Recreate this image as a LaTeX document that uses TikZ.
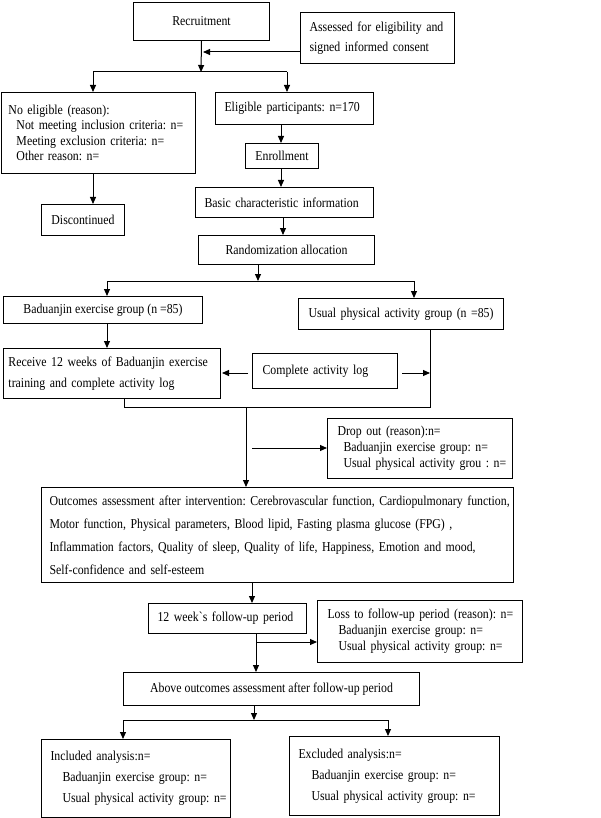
\documentclass[tikz,border=0pt]{standalone}
\usepackage{fontspec}
\setmainfont{Liberation Serif}[FakeStretch=0.87]
\newfontfamily\rawserif{Liberation Serif}[Ligatures=TeXOff,FakeStretch=0.87]
\usetikzlibrary{arrows.meta}
\frenchspacing
\begin{document}
\frenchspacing
\begin{tikzpicture}[x=1pt,y=-1pt,
  box/.style={draw, line width=1pt, inner sep=0pt, anchor=north west, font=\fontsize{13.6}{16}\selectfont},
  cbox/.style={box, align=center},
  lbox/.style={box, align=left},
  arr/.style={line width=1pt, -{Triangle[length=7pt,width=6pt]}},
  ln/.style={line width=1pt}]
\useasboundingbox (0,0) rectangle (600,818);

\node[cbox, minimum width=136pt, minimum height=38pt] (rec) at (133,2) {Recruitment};
\node[lbox, minimum height=51pt, text width=136pt, inner xsep=9pt, font=\fontsize{13.6}{20}\selectfont] (ass) at (300,12)
  {\makebox[136pt][s]{Assessed for eligibility and}\\signed informed consent};
\node[lbox, minimum height=81pt, text width=180pt, inner xsep=7pt, font=\fontsize{13.6}{15.5}\selectfont] (noel) at (1,92)
  {No eligible (reason):\\\hspace*{8pt}\mbox{Not meeting inclusion criteria: n=}\\\hspace*{8pt}\mbox{Meeting exclusion criteria: n=}\\\hspace*{8pt}Other reason: n=};
\node[lbox, minimum height=32pt, text width=140pt, inner xsep=9pt] (elig) at (215,92) {\mbox{Eligible participants: n=170}};
\node[cbox, minimum width=73pt, minimum height=25pt] (enr) at (245,143) {Enrollment};
\node[lbox, minimum height=30pt, text width=160pt, inner xsep=9pt] (basic) at (195,187) {\mbox{Basic characteristic information}};
\node[cbox, minimum width=176pt, minimum height=29pt] (rand) at (198,235) {Randomization allocation};
\node[cbox, minimum width=83pt, minimum height=31pt] (disc) at (41,204) {Discontinued};

\node[cbox, minimum width=199pt, minimum height=27pt] (bad) at (3,296) {Baduanjin exercise group (n =85)};
\node[lbox, minimum height=31pt, text width=185pt, inner xsep=10pt] (usual) at (298,298) {\mbox{Usual physical activity group (n =85)}};
\node[lbox, minimum height=50pt, text width=207pt, inner xsep=5pt, font=\fontsize{13.6}{21}\selectfont] (recv) at (3,348)
  {\makebox[203pt][s]{Receive 12 weeks of Baduanjin exercise}\\training and complete activity log};
\node[lbox, minimum height=35pt, text width=125pt, inner xsep=10pt] (cal) at (252,353) {\mbox{Complete activity log}};

\node[lbox, minimum height=60pt, text width=165pt, inner xsep=10pt, font=\fontsize{13.6}{16}\selectfont] (drop) at (327,418)
  {Drop out (reason):n=\\\hspace*{6pt}\mbox{Baduanjin exercise group: n=}\\\hspace*{6pt}\mbox{Usual physical activity grou : n=}};
\node[lbox, minimum height=95pt, text width=456pt, inner xsep=8pt, font=\fontsize{13.6}{23}\selectfont] (out) at (41,487)
  {\makebox[455pt][s]{Outcomes assessment after intervention: Cerebrovascular function, Cardiopulmonary function,}\\
   \makebox[455pt][s]{Motor function, Physical parameters, Blood lipid, Fasting plasma glucose (FPG) ,}\\
   \makebox[455pt][s]{Inflammation factors, Quality of sleep, Quality of life, Happiness, Emotion and mood,}\\
   Self-confidence and self-esteem};

\node[lbox, minimum height=30pt, text width=140pt, inner xsep=9pt] (wk) at (148,603) {\mbox{12 week{\rawserif\symbol{96}}s follow-up period}};
\node[lbox, minimum height=62pt, text width=185pt, inner xsep=10pt, font=\fontsize{13.6}{16}\selectfont] (loss) at (317,600)
  {\mbox{Loss to follow-up period (reason): n=}\\\hspace*{11pt}\mbox{Baduanjin exercise group: n=}\\\hspace*{11pt}\mbox{Usual physical activity group: n=}};
\node[cbox, minimum width=296pt, minimum height=33pt] (above) at (123,672) {Above outcomes assessment after follow-up period};
\node[lbox, minimum height=78pt, text width=171pt, inner xsep=9pt, font=\fontsize{13.6}{21}\selectfont] (inc) at (41,739)
  {Included analysis:n=\\\hspace*{12pt}\mbox{Baduanjin exercise group: n=}\\\hspace*{12pt}\mbox{Usual physical activity group: n=}};
\node[lbox, minimum height=79pt, text width=192pt, inner xsep=9pt, font=\fontsize{13.6}{21}\selectfont] (exc) at (289,736)
  {Excluded analysis:n=\\\hspace*{13pt}\mbox{Baduanjin exercise group: n=}\\\hspace*{13pt}\mbox{Usual physical activity group: n=}};

% connectors
\coordinate (s1) at (201,72);
\draw[arr] (rec.south) -- (s1);
\coordinate (a1) at (203,52);
\draw[arr] (ass.west |- a1) -- (a1);
\coordinate (s1l) at (93,72);
\coordinate (s1r) at (287,72);
\draw[ln] (s1l) -- (s1r);
\draw[arr] (s1l) -- (s1l |- noel.north);
\draw[arr] (s1r) -- (s1r |- elig.north);
\coordinate (x281) at (281,0);
\draw[arr] (x281 |- elig.south) -- (x281 |- enr.north);
\draw[arr] (x281 |- enr.south) -- (x281 |- basic.north);
\coordinate (x283) at (283,0);
\draw[arr] (x283 |- basic.south) -- (x283 |- rand.north);
\coordinate (x93) at (93,0);
\draw[arr] (x93 |- noel.south) -- (x93 |- disc.north);

\coordinate (s2) at (258,281);
\draw[arr] (s2 |- rand.south) -- (s2);
\coordinate (s2l) at (107,281);
\coordinate (s2r) at (414,281);
\draw[ln] (s2l) -- (s2r);
\draw[arr] (s2l) -- (s2l |- bad.north);
\draw[arr] (s2r) -- (s2r |- usual.north);
\draw[arr] (s2l |- bad.south) -- (s2l |- recv.north);

\coordinate (c1) at (248,373);
\coordinate (c2) at (222,373);
\draw[arr] (c1) -- (c2);
\coordinate (c3) at (402,373);
\coordinate (j1) at (430,373);
\draw[arr] (c3) -- (j1);
\coordinate (m1) at (430,407);
\coordinate (m2) at (124,407);
\draw[ln] (usual.south -| m1) -- (m1) -- (m2) -- (recv.south -| m2);
\coordinate (m3) at (246,407);
\draw[arr] (m3) -- (m3 |- out.north);
\coordinate (d1) at (252,448);
\draw[arr] (d1) -- (d1 -| drop.west);

\coordinate (x252) at (252,0);
\draw[arr] (x252 |- out.south) -- (x252 |- wk.north);
\coordinate (x256) at (256,0);
\draw[arr] (x256 |- wk.south) -- (x256 |- above.north);
\coordinate (l1) at (256,642);
\draw[arr] (l1) -- (l1 -| loss.west);
\coordinate (s3) at (254,720);
\draw[arr] (s3 |- above.south) -- (s3);
\coordinate (s3l) at (123,720);
\coordinate (s3r) at (388,720);
\draw[ln] (s3l) -- (s3r);
\draw[arr] (s3l) -- (s3l |- inc.north);
\draw[arr] (s3r) -- (s3r |- exc.north);
\end{tikzpicture}
\end{document}
